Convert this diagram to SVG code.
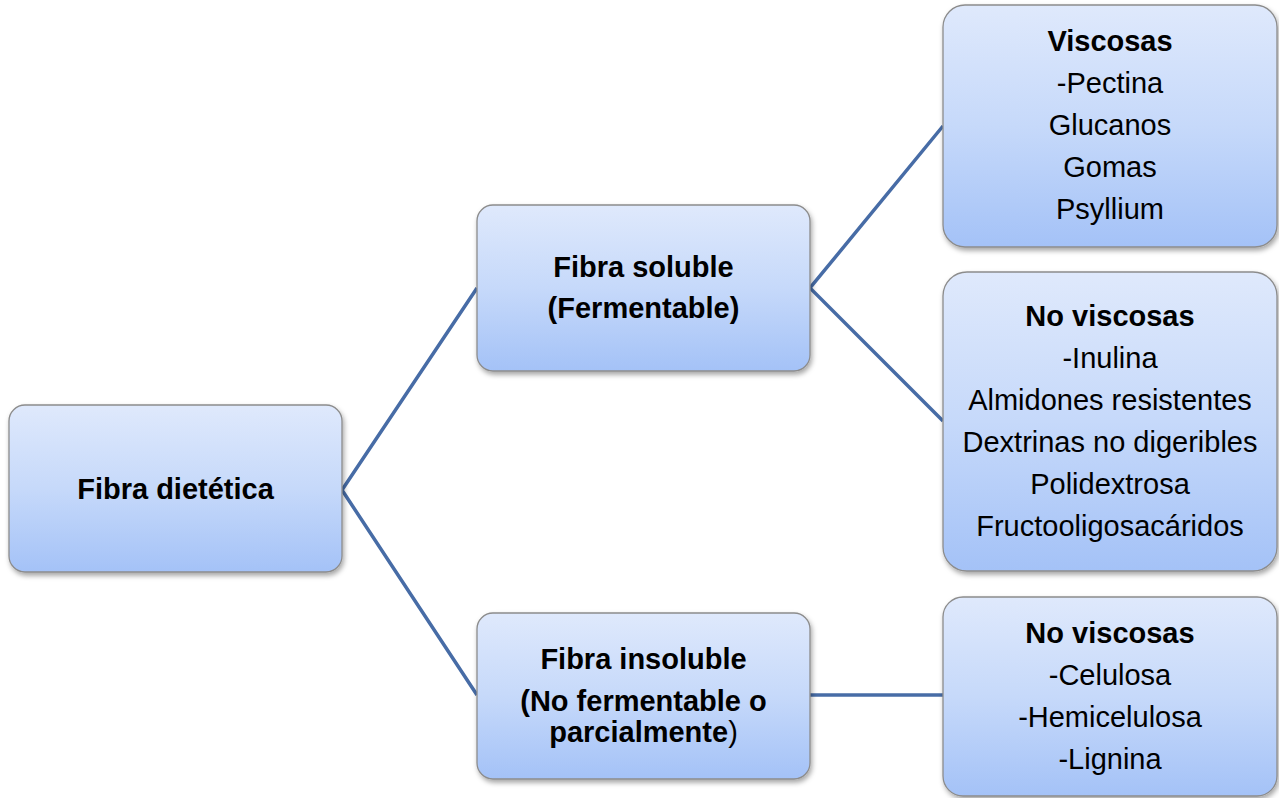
<svg xmlns="http://www.w3.org/2000/svg" width="1279" height="798" viewBox="0 0 1279 798">
  <defs>
    <linearGradient id="g" x1="0" y1="0" x2="0" y2="1">
      <stop offset="0" stop-color="#dfe9fc"/>
      <stop offset="0.5" stop-color="#c6d9fa"/>
      <stop offset="1" stop-color="#a4c2f7"/>
    </linearGradient>
    <filter id="sh" x="-10%" y="-10%" width="125%" height="130%">
      <feDropShadow dx="1.5" dy="3" stdDeviation="2.5" flood-color="#000" flood-opacity="0.35"/>
    </filter>
  </defs>
  <style>
    .box { fill: url(#g); stroke: #8c8c8c; stroke-width: 1.3; filter: url(#sh); }
    .t { font-family: "Liberation Sans", Arial, sans-serif; font-size: 29px; fill: #000; text-anchor: middle; }
    .b { font-weight: bold; }
    .c { stroke: #476ca6; stroke-width: 3.5; fill: none; }
  </style>
  <rect width="1279" height="798" fill="#fff"/>
  <g id="connectors">
    <polyline class="c" points="477,288 342,490 477,695"/>
    <polyline class="c" points="943,126 810,288 943,421"/>
    <line class="c" x1="810" y1="695" x2="943" y2="695"/>
  </g>
  <g id="n-fibra">
    <rect class="box" x="9" y="405" width="333" height="167" rx="16"/>
    <text class="t b" x="175.5" y="499">Fibra dietética</text>
  </g>
  <g id="n-soluble">
    <rect class="box" x="477" y="205" width="333" height="166" rx="16"/>
    <text class="t b" x="643.5" y="277">Fibra soluble</text>
    <text class="t b" x="643.5" y="318">(Fermentable)</text>
  </g>
  <g id="n-insoluble">
    <rect class="box" x="477" y="613" width="333" height="166" rx="16"/>
    <text class="t b" x="643.5" y="669">Fibra insoluble</text>
    <text class="t b" x="643.5" y="711">(No fermentable o</text>
    <text class="t" x="643.5" y="742"><tspan class="b">parcialmente</tspan>)</text>
  </g>
  <g id="n-viscosas">
    <rect class="box" x="943" y="5" width="334" height="242" rx="22"/>
    <text class="t b" x="1110" y="51">Viscosas</text>
    <text class="t" x="1110" y="93">-Pectina</text>
    <text class="t" x="1110" y="135">Glucanos</text>
    <text class="t" x="1110" y="177">Gomas</text>
    <text class="t" x="1110" y="219">Psyllium</text>
  </g>
  <g id="n-noviscosas1">
    <rect class="box" x="943" y="272" width="334" height="299" rx="24"/>
    <text class="t b" x="1110" y="326">No viscosas</text>
    <text class="t" x="1110" y="368">-Inulina</text>
    <text class="t" x="1110" y="410">Almidones resistentes</text>
    <text class="t" x="1110" y="452">Dextrinas no digeribles</text>
    <text class="t" x="1110" y="494">Polidextrosa</text>
    <text class="t" x="1110" y="536">Fructooligosacáridos</text>
  </g>
  <g id="n-noviscosas2">
    <rect class="box" x="943" y="597" width="334" height="199" rx="20"/>
    <text class="t b" x="1110" y="643">No viscosas</text>
    <text class="t" x="1110" y="685">-Celulosa</text>
    <text class="t" x="1110" y="727">-Hemicelulosa</text>
    <text class="t" x="1110" y="769">-Lignina</text>
  </g>
</svg>
